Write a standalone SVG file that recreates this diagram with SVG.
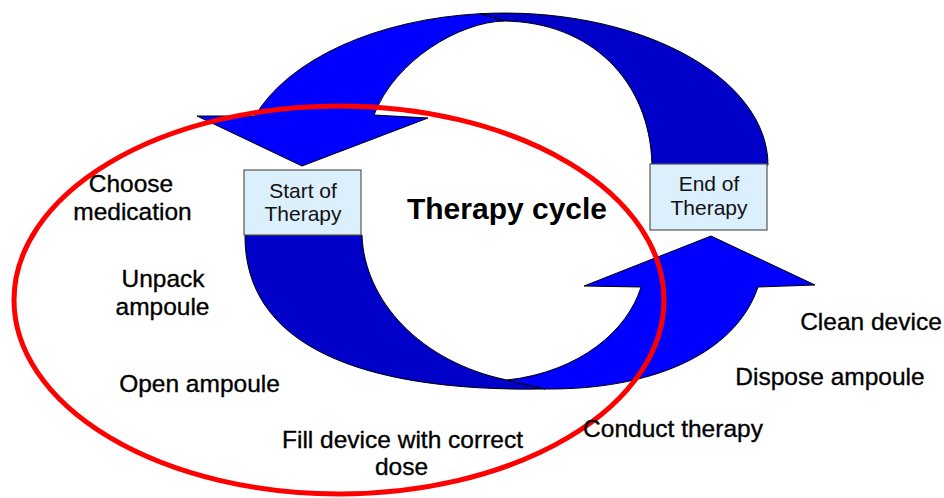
<svg xmlns="http://www.w3.org/2000/svg" width="944" height="498" viewBox="0 0 944 498">
<style>
.light{fill:#0000FF;stroke:#000;stroke-width:1;stroke-linejoin:round}
.dark{fill:#0000C8;stroke:#000;stroke-width:1;stroke-linejoin:round}
.box{fill:#DCEFFC;stroke:#555;stroke-width:1.2}
.boxtxt{font-family:"Liberation Sans",Arial,sans-serif;font-size:21px;fill:#111;text-anchor:middle}
.lbl{font-family:"Liberation Sans",Arial,sans-serif;font-size:24.5px;fill:#000;stroke:#000;stroke-width:0.35;text-anchor:middle}
.title{font-family:"Liberation Sans",Arial,sans-serif;font-size:30px;font-weight:bold;fill:#000;text-anchor:middle}
</style>
<rect width="944" height="498" fill="#fff"/>
<g id="connectors">
  <g id="top-arrow">
    <path class="dark" d="M480,13.7 A263.5 152 0 0 1 768,165 L652,165 C650,80 590,22 504,21 Z"/>
    <path class="light" d="M197,116 L255,116 A263.5 152 0 0 1 480,13.7 L504,21 C460,22 395,60 374,115 L428,118 L302,166 Z"/>
  </g>
  <g id="bottom-arrow">
    <path class="dark" d="M245,235 L362,235 C364,300 420,362 507,380 L545,389 C360,392 244,345 245,235 Z"/>
    <path class="light" d="M584,286 L641,287 C628,330 580,372 507,380 L545,389 C650,390 735,355 758,287 L815,285 L711,236 Z"/>
  </g>
</g>
<g id="start-of-therapy">
  <rect class="box" x="244" y="170" width="117" height="65"/>
  <text class="boxtxt" x="303" y="198">Start of</text>
  <text class="boxtxt" x="303" y="221">Therapy</text>
</g>
<g id="end-of-therapy">
  <rect class="box" x="650" y="164" width="117" height="66"/>
  <text class="boxtxt" x="709" y="191">End of</text>
  <text class="boxtxt" x="709" y="215">Therapy</text>
</g>
<g id="preparation-ellipse">
  <ellipse cx="339" cy="300" rx="325" ry="194" fill="none" stroke="#FF0000" stroke-width="5"/>
</g>
<g id="therapy-cycle">
  <text class="title" x="507" y="219">Therapy cycle</text>
</g>
<g id="choose-medication">
  <text class="lbl" x="131" y="192">Choose</text>
  <text class="lbl" x="132.5" y="220">medication</text>
</g>
<g id="unpack-ampoule">
  <text class="lbl" x="163" y="287">Unpack</text>
  <text class="lbl" x="162.5" y="315">ampoule</text>
</g>
<g id="open-ampoule">
  <text class="lbl" x="199.5" y="392">Open ampoule</text>
</g>
<g id="fill-device">
  <text class="lbl" x="402.5" y="448">Fill device with correct</text>
  <text class="lbl" x="401.5" y="475">dose</text>
</g>
<g id="conduct-therapy">
  <text class="lbl" x="673" y="437">Conduct therapy</text>
</g>
<g id="dispose-ampoule">
  <text class="lbl" x="830" y="385">Dispose ampoule</text>
</g>
<g id="clean-device">
  <text class="lbl" x="871" y="330">Clean device</text>
</g>
</svg>
